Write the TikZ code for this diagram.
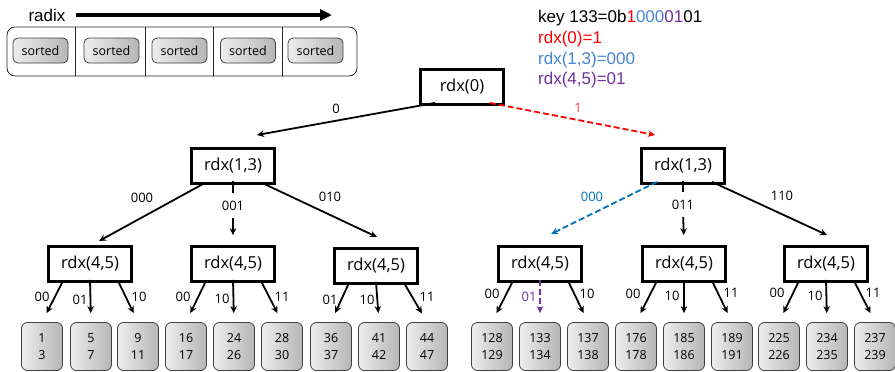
\documentclass[tikz,border=0pt]{standalone}
\usepackage{fontspec}
\setmainfont{Open Sans}
\newfontfamily\keyfont{Liberation Sans}
\usetikzlibrary{arrows.meta,calc}
\definecolor{kred}{RGB}{255,0,0}
\definecolor{lred}{RGB}{255,60,60}
\definecolor{kblue}{RGB}{70,132,212}
\definecolor{eblue}{RGB}{0,112,192}
\definecolor{kpurple}{RGB}{112,48,160}
\begin{document}
\begin{tikzpicture}[x=1pt,y=-1pt,
 tbox/.style={draw=black,line width=2.8pt,fill=white,minimum width=83pt,minimum height=35pt,inner sep=0pt,font=\fontsize{16.5}{18}\selectfont},
 leaf/.style={draw=black!75,line width=0.8pt,rounded corners=6pt,left color=gray!14,right color=gray!58,minimum width=41pt,minimum height=48pt,inner sep=0pt,align=center,font=\fontsize{12.5}{16.5}\selectfont},
 srt/.style={draw=black!75,line width=0.8pt,rounded corners=5pt,left color=gray!14,right color=gray!58,minimum width=55pt,minimum height=25pt,inner sep=0pt,font=\fontsize{12.5}{14}\selectfont},
 elab/.style={font=\fontsize{13}{14}\selectfont,inner sep=0pt},
 keytxt/.style={font=\keyfont\fontsize{17}{20}\selectfont,inner sep=0pt,anchor=base west},
 conn/.style={line width=1.8pt,-{Stealth[length=7pt,width=6.5pt]}},
 tick/.style={line width=1.8pt},
 dsh/.style={dash pattern=on 6pt off 3pt},
]
\useasboundingbox (0,0) rectangle (895,372);

% ---------- top-left panel ----------
\node[font=\keyfont\fontsize{17}{20}\selectfont,inner sep=0pt] (radix) at (47,15) {radix};
\coordinate (rs) at (76,15);
\coordinate (re) at (332,15);
\draw[line width=3.5pt,-{Triangle[length=12pt,width=11pt]}] (rs) -- (re);
\node[draw=black!85,line width=0.8pt,rounded corners=8pt,minimum width=350pt,minimum height=49pt,inner sep=0pt] (panel) at (182,51.5) {};
\foreach \dx in {69,139,207,276}{
  \draw[line width=0.8pt,black!85] ($(panel.north west)+(\dx,0)$) -- ($(panel.south west)+(\dx,0)$);
}
\node[srt] (s1) at (40.5,50.5) {sorted};
\node[srt] (s2) at (111.5,50.5) {sorted};
\node[srt] (s3) at (179.5,50.5) {sorted};
\node[srt] (s4) at (248,50.5) {sorted};
\node[srt] (s5) at (315.5,50.5) {sorted};

% ---------- key text ----------
\node[keytxt] (k1) at (538,23) {key 133=0b\textcolor{kred}{1}\textcolor{kblue}{000}\textcolor{kpurple}{01}01};
\node[keytxt,text=kred] (k2) at (538,43.5) {rdx(0)=1};
\node[keytxt,text=kblue] (k3) at (538,64) {rdx(1,3)=000};
\node[keytxt,text=kpurple] (k4) at (538,84.5) {rdx(4,5)=01};

% ---------- tree boxes ----------
\node[tbox] (root) at (462,87) {rdx(0)};
\node[tbox] (L1) at (233,166) {rdx(1,3)};
\node[tbox] (R1) at (683,166) {rdx(1,3)};
\node[tbox] (a1) at (90,264) {rdx(4,5)};
\node[tbox] (a2) at (233,264) {rdx(4,5)};
\node[tbox] (a3) at (376,266) {rdx(4,5)};
\node[tbox] (b1) at (540,264) {rdx(4,5)};
\node[tbox] (b2) at (684,264) {rdx(4,5)};
\node[tbox] (b3) at (826,264) {rdx(4,5)};

% ---------- leaves ----------
\node[leaf] (l1) at (42,346.5) {1\\3};
\node[leaf] (l2) at (91,346.5) {5\\7};
\node[leaf] (l3) at (138,346.5) {9\\11};
\node[leaf] (l4) at (186,346.5) {16\\17};
\node[leaf] (l5) at (234,346.5) {24\\26};
\node[leaf] (l6) at (282,346.5) {28\\30};
\node[leaf] (l7) at (331,346.5) {36\\37};
\node[leaf] (l8) at (379,346.5) {41\\42};
\node[leaf] (l9) at (427,346.5) {44\\47};
\node[leaf] (r1) at (492,346.5) {128\\129};
\node[leaf] (r2) at (540,346.5) {133\\134};
\node[leaf] (r3) at (588,346.5) {137\\138};
\node[leaf] (r4) at (636,346.5) {176\\178};
\node[leaf] (r5) at (684,346.5) {185\\186};
\node[leaf] (r6) at (732,346.5) {189\\191};
\node[leaf] (r7) at (779,346.5) {225\\226};
\node[leaf] (r8) at (827,346.5) {234\\235};
\node[leaf] (r9) at (875,346.5) {237\\239};

% ---------- level 0 edges ----------
\coordinate (t0) at (257,135);
\coordinate (t1) at (655,135);
\draw[conn] ([xshift=-27pt,yshift=3pt]root.south) -- (t0);
\draw[conn,kred,dsh] ([xshift=28pt,yshift=3pt]root.south) -- (t1);
\node[elab] (e0) at (336,109) {0};
\node[elab,text=lred] (e1) at (578,108) {1};

% ---------- level 1 edges (left) ----------
\coordinate (t2) at (99,241);
\coordinate (t3) at (377,237);
\draw[conn] ([xshift=-28pt,yshift=2pt]L1.south) -- (t2);
\draw[conn] ([xshift=29pt,yshift=2pt]L1.south) -- (t3);
\node[elab] (f0) at (142,198) {000};
\node[elab] (f1) at (233,206) {001};
\node[elab] (f2) at (330,197) {010};
\draw[tick,shorten >=8pt] ([yshift=4pt]L1.south) -- (f1.north);
\draw[conn,shorten <=7pt,shorten >=10pt] (f1.south) -- (a2.north);

% ---------- level 1 edges (right) ----------
\coordinate (t4) at (551,234);
\coordinate (t5) at (827,235);
\draw[conn,eblue,dsh] ([xshift=-26pt,yshift=3pt]R1.south) -- (t4);
\draw[conn] ([xshift=29pt,yshift=3pt]R1.south) -- (t5);
\node[elab,text=eblue] (g0) at (592,197) {000};
\node[elab] (g1) at (683,205) {011};
\node[elab] (g2) at (782,196) {110};
\draw[tick,shorten >=8pt] ([yshift=4pt]R1.south) -- (g1.north);
\draw[conn,shorten <=7pt,shorten >=10pt] (g1.south) -- (b2.north);

% ---------- level 2 edges ----------
\foreach \b/\x/\y/\z in {a1/l1/l2/l3, a2/l4/l5/l6, a3/l7/l8/l9, b2/r4/r5/r6, b3/r7/r8/r9}{
  \draw[conn,shorten >=10pt] ([xshift=-27pt,yshift=2pt]\b.south) -- (\x.north);
  \draw[conn,shorten >=9pt] ([yshift=3pt]\b.south) -- (\y.north);
  \draw[conn,shorten >=10pt] ([xshift=28pt,yshift=2pt]\b.south) -- (\z.north);
}
\draw[conn,shorten >=10pt] ([xshift=-27pt,yshift=2pt]b1.south) -- (r1.north);
\draw[conn,kpurple,dsh,shorten >=9pt] ([yshift=3pt]b1.south) -- (r2.north);
\draw[conn,shorten >=10pt] ([xshift=28pt,yshift=2pt]b1.south) -- (r3.north);

% labels level 2
\node[elab] (h1) at (42,297) {00};
\node[elab] (h2) at (80,300) {01};
\node[elab] (h3) at (139,297) {10};
\node[elab] (h4) at (183,297) {00};
\node[elab] (h5) at (222,299) {10};
\node[elab] (h6) at (282,297) {11};
\node[elab] (h7) at (330,300) {01};
\node[elab] (h8) at (367,300) {10};
\node[elab] (h9) at (427,297) {11};
\node[elab] (i1) at (492,294) {00};
\node[elab,text=kpurple] (i2) at (529,297) {01};
\node[elab] (i3) at (587,294) {10};
\node[elab] (i4) at (633,294) {00};
\node[elab] (i5) at (672,296) {10};
\node[elab] (i6) at (731,293) {11};
\node[elab] (i7) at (777,293) {00};
\node[elab] (i8) at (815,296) {10};
\node[elab] (i9) at (873,293) {11};
\end{tikzpicture}
\end{document}
